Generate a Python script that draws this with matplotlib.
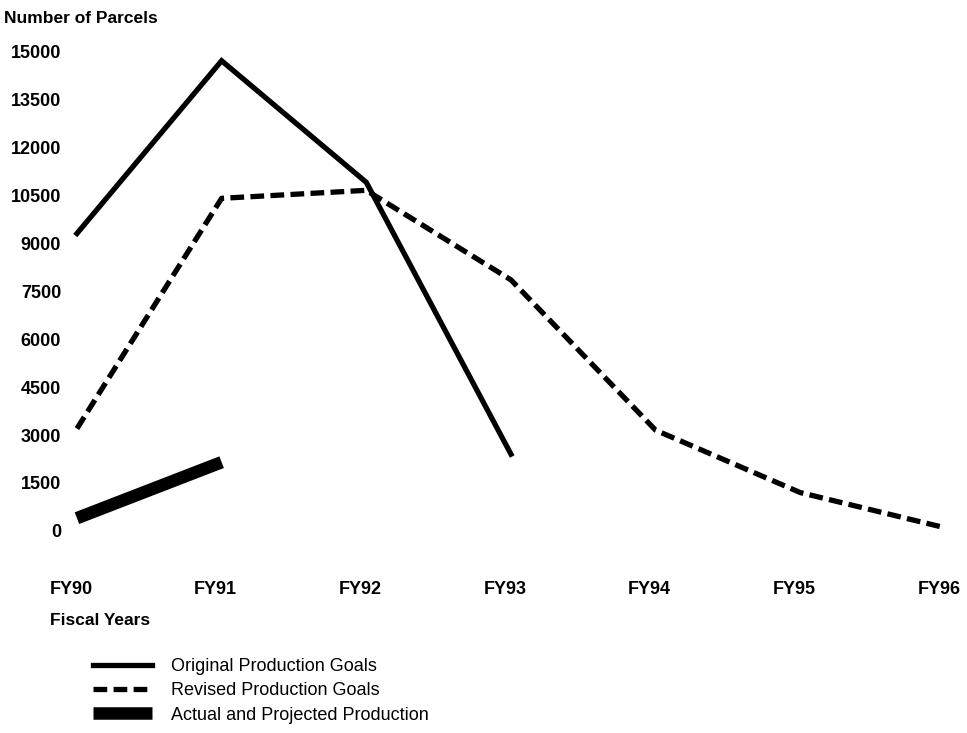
import numpy as np
import matplotlib.pyplot as plt
from matplotlib.transforms import ScaledTranslation

plt.rcParams['font.family'] = ['Liberation Sans', 'DejaVu Sans']

annees = ["FY90", "FY91", "FY92", "FY93", "FY94", "FY95", "FY96"]
objectifs_initiaux = [9300, 14700, 10900, 2400]
objectifs_revises = [3200, 10400, 10650, 7850, 3150, 1200, 100]
production_reelle = [400, 2150]
graduations_y = [0, 1500, 3000, 4500, 6000, 7500, 9000, 10500, 12000, 13500, 15000]

fig = plt.figure(figsize=(9.67, 7.33), dpi=100)
ax = fig.add_axes([0.0646, 0.232, 0.9276, 0.72])

x = np.arange(len(annees))
ax.plot(x[:len(objectifs_initiaux)], objectifs_initiaux, color='black', lw=3.8,
        solid_joinstyle='miter', label="Original Production Goals")
ax.plot(x, objectifs_revises, color='black', lw=3.8, dashes=(2.6, 1.2),
        label="Revised Production Goals")
ax.plot(x[:len(production_reelle)], production_reelle, color='black', lw=9,
        solid_capstyle='butt', label="Actual and Projected Production")

ax.set_xlim(-0.1, 6.1)
ax.set_ylim(-1000, 15500)
ax.set_yticks(graduations_y)
ax.set_yticklabels([str(v) for v in graduations_y])
ax.set_xticks(x)
ax.set_xticklabels(annees)
for s in ax.spines.values():
    s.set_visible(False)
ax.tick_params(length=0, labelsize=13)
ax.tick_params(axis='x', pad=13)
ax.tick_params(axis='y', pad=1)
for t in ax.get_yticklabels():
    t.set_fontweight('bold')
decalage = ScaledTranslation(-6 / 100, 0, fig.dpi_scale_trans)
for t in ax.get_xticklabels():
    t.set_fontweight('bold')
    t.set_transform(t.get_transform() + decalage)

fig.text(0.004, 0.975, "Number of Parcels", fontsize=12.5, fontweight='bold',
         ha='left', va='center')
fig.text(0.052, 0.154, "Fiscal Years", fontsize=12.5, fontweight='bold',
         ha='left', va='center')

fig.legend(loc='upper left', bbox_to_anchor=(0.096, 0.102), frameon=False,
           fontsize=13, handlelength=3.3, handletextpad=1.05, labelspacing=0.4,
           borderpad=0, borderaxespad=0)

fig.savefig("out.png", dpi=100)
